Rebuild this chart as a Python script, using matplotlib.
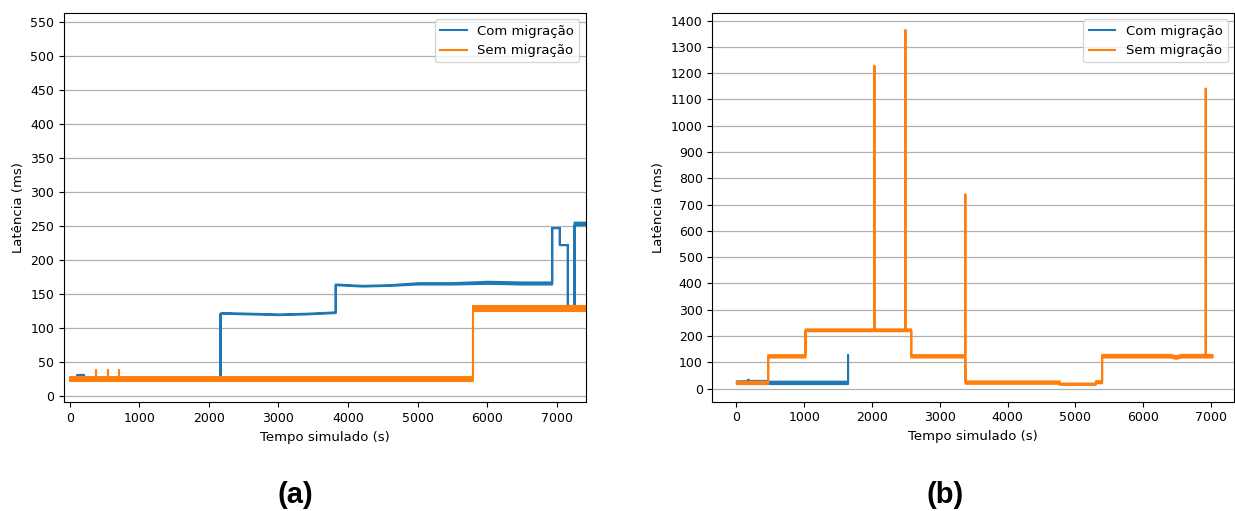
import matplotlib; matplotlib.use("Agg")
import matplotlib.pyplot as plt
from matplotlib.lines import Line2D

# latency traces: knot times (s) and the low/high envelope (ms) of each band
A_COM_T  = [0, 100, 100, 200, 200, 2160, 2160, 2200, 2600, 3000, 3400, 3815, 3815, 4200, 4600, 5000, 5500,
            6000, 6500, 6925, 6925, 7035, 7035, 7150, 7150, 7246, 7246, 7420]
A_COM_LO = [24, 24, 24, 24, 24, 24, 121, 121, 120, 119, 120, 122, 163, 161, 162, 164, 164,
            165, 164, 164, 247, 247, 222, 222, 128, 128, 251, 251]
A_COM_HI = [27, 27, 31, 31, 27, 27, 121, 122, 121, 120, 121, 123, 164, 162, 163, 166, 166,
            168, 167, 167, 247, 247, 222, 222, 128, 128, 255, 255]

A_SEM_T  = [0, 376, 376, 380, 380, 544, 544, 548, 548, 706, 706, 710, 710, 5790, 5790, 7420]
A_SEM_LO = [21, 21, 21, 21, 21, 21, 21, 21, 21, 21, 21, 21, 21, 21, 124, 124]
A_SEM_HI = [27, 27, 37, 37, 27, 27, 37, 37, 27, 27, 37, 37, 27, 27, 131, 131]

B_COM_T  = [0, 150, 170, 190, 460, 460, 1640, 1640]
B_COM_LO = [22, 23, 23, 23, 23, 19, 19, 125]
B_COM_HI = [29, 30, 36, 31, 31, 28, 28, 129]

B_SEM_T  = [0, 462, 462, 1012, 1012, 2027, 2027, 2031, 2031, 2484, 2484, 2488, 2488, 2572, 2572, 3368, 3368,
            3372, 3372, 4763, 4763, 5295, 5295, 5387, 5387, 6400, 6480, 6560, 6913, 6913, 6917, 6917, 7017]
B_SEM_LO = [19, 19, 120, 120, 220, 220, 220, 220, 220, 220, 220, 220, 220, 220, 120, 120, 120,
            20, 20, 20, 16, 16, 22, 22, 120, 120, 115, 120, 120, 120, 120, 120, 120]
B_SEM_HI = [28, 28, 129, 129, 227, 227, 1230, 1230, 227, 227, 1366, 1366, 227, 227, 129, 129, 741,
            741, 29, 29, 21, 21, 30, 30, 130, 130, 125, 130, 130, 1143, 1143, 130, 130]

LABELS = ["Com migração", "Sem migração"]
COLORS = ["#1f77b4", "#ff7f0e"]

def panel(ax, series, xlim, ylim, yticks, tag, tag_x):
    for (t, lo, hi), c in zip(series, COLORS):
        ax.fill_between(t, lo, hi, color=c, edgecolor=c, lw=1.5)
    ax.set_xlim(*xlim); ax.set_ylim(*ylim)
    ax.set_xticks(range(0, 8000, 1000)); ax.set_yticks(yticks)
    ax.tick_params(labelsize=9)
    ax.yaxis.grid(True, color="#b0b0b0", lw=0.9); ax.set_axisbelow(True)
    ax.set_xlabel("Tempo simulado (s)", fontsize=9.5)
    ax.set_ylabel("Latência (ms)", fontsize=9.5)
    handles = [Line2D([], [], color=c, lw=1.5) for c in COLORS]
    ax.legend(handles, LABELS, loc="upper right", fontsize=9.5)
    fig.text(tag_x, 0.031, tag, ha="center", va="center", fontsize=21,
             fontweight="bold", family="Liberation Sans")

fig = plt.figure(figsize=(12.35, 5.11), dpi=100)
ax_a = fig.add_axes([0.0518, 0.2127, 0.4227, 0.7624])
ax_b = fig.add_axes([0.5768, 0.2139, 0.4227, 0.7613])

panel(ax_a, [(A_COM_T, A_COM_LO, A_COM_HI), (A_SEM_T, A_SEM_LO, A_SEM_HI)],
      (-82, 7418), (-10, 563), range(0, 600, 50), "(a)", 0.239)
panel(ax_b, [(B_COM_T, B_COM_LO, B_COM_HI), (B_SEM_T, B_SEM_LO, B_SEM_HI)],
      (-354, 7345), (-50, 1430), range(0, 1500, 100), "(b)", 0.765)

fig.savefig("out.png", dpi=100)
